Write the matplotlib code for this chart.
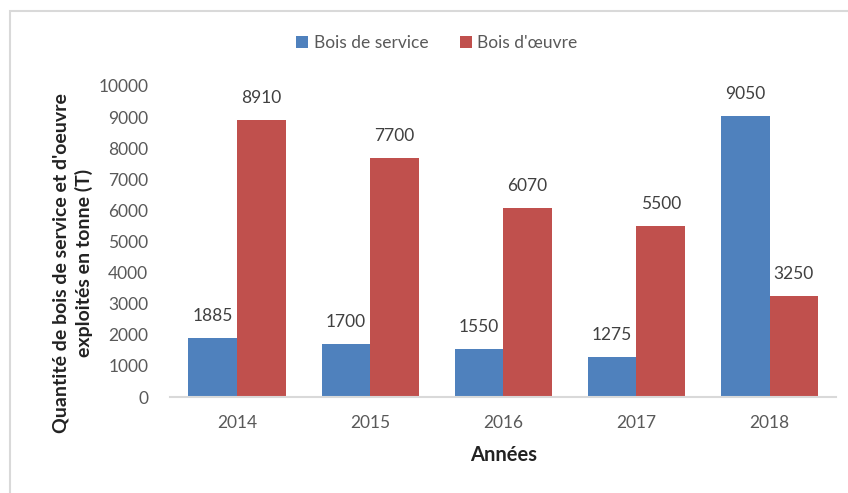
import matplotlib.pyplot as plt
import numpy as np
from matplotlib.patches import Rectangle

plt.rcParams['font.family'] = ['Lato', 'DejaVu Sans']

annees = ['2014', '2015', '2016', '2017', '2018']
bois_service = [1885, 1700, 1550, 1275, 9050]
bois_oeuvre = [8910, 7700, 6070, 5500, 3250]

bleu = '#4F81BD'
rouge = '#C0504D'
gris = '#595959'

fig = plt.figure(figsize=(8.48, 4.93), dpi=100)
ax = fig.add_axes([0.201, 0.1947, 0.785, 0.6309])

x = np.arange(len(annees))
w = 0.365
b1 = ax.bar(x - w / 2, bois_service, w, color=bleu, label='Bois de service')
b2 = ax.bar(x + w / 2, bois_oeuvre, w, color=rouge, label="Bois d'œuvre")

# Etiquettes de valeurs au-dessus des barres
for bars in (b1, b2):
    for rect in bars:
        h = rect.get_height()
        ax.annotate(f'{h:.0f}', (rect.get_x() + rect.get_width() / 2, h),
                    xytext=(0, 10), textcoords='offset points',
                    ha='center', va='bottom', fontsize=12.5, color='#404040')

ax.set_xlim(-0.5, len(annees) - 0.5)
ax.set_ylim(0, 10000)
ax.set_yticks(range(0, 10001, 1000))
ax.set_xticks(x)
ax.set_xticklabels(annees)
ax.tick_params(axis='both', length=0, labelsize=12.5, labelcolor=gris)
ax.tick_params(axis='y', pad=16)
ax.tick_params(axis='x', pad=13)

for s in ['top', 'right', 'left']:
    ax.spines[s].set_visible(False)
ax.spines['bottom'].set_color('#D9D9D9')
ax.spines['bottom'].set_linewidth(1.5)

ax.set_xlabel('Années', fontsize=14.5, fontweight='bold', color='#222222', labelpad=10)
ax.set_ylabel("Quantité de bois de service et d'oeuvre\nexploités en tonne (T)",
              fontsize=14, fontweight='bold', color='#222222',
              linespacing=1.4)
ax.yaxis.set_label_coords(-0.116, 0.43)

leg = fig.legend(loc='center', bbox_to_anchor=(0.515, 0.912), ncol=2, frameon=False,
                 fontsize=12.5, handlelength=0.7, handleheight=0.7,
                 handletextpad=0.3, columnspacing=1.8)
for t in leg.get_texts():
    t.set_color(gris)

# Cadre du graphique
fig.patches.append(Rectangle((0.0115, -0.1), 1.2, 1.078, transform=fig.transFigure,
                             fill=False, edgecolor='#D9D9D9', linewidth=1.5))

fig.savefig('out.png', dpi=100)
